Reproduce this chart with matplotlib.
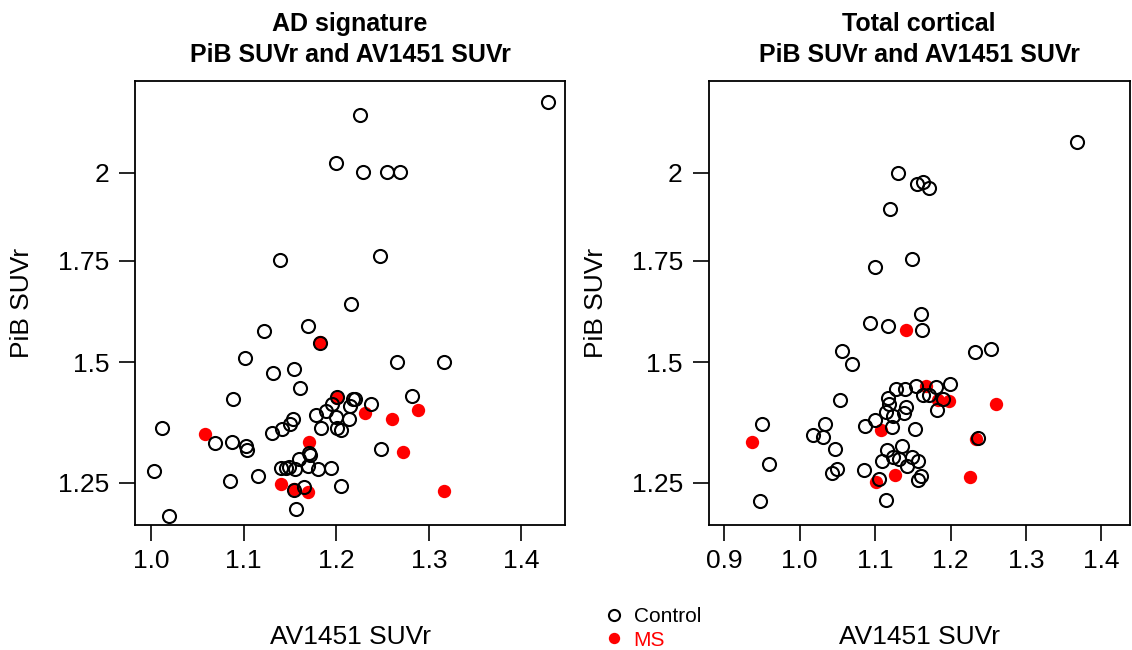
import matplotlib
matplotlib.use("Agg")
import matplotlib.pyplot as plt
from matplotlib.ticker import NullLocator

plt.rcParams['font.family'] = ['Liberation Sans', 'DejaVu Sans']

# AD signature panel
ad_ctrl_x = [1.429, 1.226, 1.200, 1.229, 1.255, 1.269, 1.139, 1.247, 1.216, 1.122,
             1.169, 1.1825, 1.101, 1.266, 1.316, 1.132, 1.154, 1.161, 1.089, 1.282,
             1.2005, 1.218, 1.220, 1.238, 1.195, 1.215, 1.189, 1.178, 1.200, 1.2135,
             1.153, 1.150, 1.141, 1.131, 1.183, 1.2005, 1.205, 1.012, 1.069, 1.0875,
             1.103, 1.104, 1.171, 1.172, 1.160, 1.248, 1.140, 1.146, 1.149, 1.1555,
             1.170, 1.180, 1.194, 1.003, 1.116, 1.085, 1.154, 1.165, 1.205, 1.157,
             1.019]
ad_ctrl_y = [2.227, 2.181, 2.029, 2.002, 2.002, 2.002, 1.751, 1.763, 1.640, 1.574,
             1.585, 1.546, 1.511, 1.500, 1.502, 1.477, 1.485, 1.442, 1.419, 1.426,
             1.423, 1.419, 1.419, 1.408, 1.408, 1.405, 1.394, 1.385, 1.380, 1.376,
             1.376, 1.366, 1.356, 1.347, 1.359, 1.358, 1.353, 1.359, 1.328, 1.329,
             1.322, 1.3135, 1.307, 1.304, 1.296, 1.316, 1.279, 1.279, 1.280, 1.277,
             1.282, 1.276, 1.279, 1.272, 1.263, 1.253, 1.237, 1.2425, 1.244, 1.202,
             1.189]
ad_ms_x = [1.1825, 1.2005, 1.231, 1.260, 1.288, 1.058, 1.171, 1.2725, 1.140, 1.154,
           1.170, 1.316]
ad_ms_y = [1.548, 1.421, 1.390, 1.377, 1.396, 1.345, 1.330, 1.310, 1.248, 1.239,
           1.232, 1.234]

# Total cortical panel
tc_ctrl_x = [1.368, 1.130, 1.155, 1.163, 1.171, 1.1195, 1.100, 1.149, 1.161, 1.093,
             1.117, 1.1625, 1.056, 1.070, 1.232, 1.253, 1.054, 1.128, 1.139, 1.154,
             1.181, 1.199, 1.164, 1.171, 1.190, 1.182, 1.117, 1.119, 1.141, 1.138,
             1.114, 1.1235, 1.100, 1.086, 1.123, 1.153, 0.950, 0.959, 0.947, 1.033,
             1.018, 1.031, 1.047, 1.043, 1.049, 1.085, 1.105, 1.115, 1.1155, 1.135,
             1.109, 1.1235, 1.1315, 1.142, 1.149, 1.157, 1.157, 1.161, 1.237]
tc_ctrl_y = [2.094, 2.000, 1.966, 1.971, 1.955, 1.893, 1.734, 1.755, 1.614, 1.592,
             1.584, 1.576, 1.526, 1.4965, 1.523, 1.532, 1.418, 1.441, 1.440, 1.448,
             1.4445, 1.452, 1.4285, 1.427, 1.4185, 1.396, 1.4206, 1.408, 1.403, 1.390,
             1.391, 1.382, 1.375, 1.363, 1.361, 1.356, 1.366, 1.286, 1.215, 1.366,
             1.344, 1.339, 1.316, 1.269, 1.276, 1.274, 1.257, 1.218, 1.3135, 1.3215,
             1.292, 1.300, 1.295, 1.2826, 1.299, 1.292, 1.255, 1.263, 1.337]
tc_ms_x = [1.141, 1.167, 1.184, 1.198, 1.260, 1.108, 0.937, 1.1015, 1.126, 1.226,
           1.234]
tc_ms_y = [1.576, 1.448, 1.416, 1.415, 1.409, 1.353, 1.330, 1.252, 1.264, 1.261,
           1.335]

titles = ["AD signature\nPiB SUVr and AV1451 SUVr",
          "Total cortical\nPiB SUVr and AV1451 SUVr"]
y_ticks = [1.25, 1.5, 1.75, 2.0]
y_labels = ["1.25", "1.5", "1.75", "2"]
ad_x_ticks = [1.0, 1.1, 1.2, 1.3, 1.4]
tc_x_ticks = [0.9, 1.0, 1.1, 1.2, 1.3, 1.4]

W, H = 1132, 650
fig = plt.figure(figsize=(W / 100, H / 100), dpi=100)
ax1 = fig.add_axes([135 / W, 1 - 525 / H, 430 / W, 444 / H])
ax2 = fig.add_axes([708.5 / W, 1 - 525 / H, 421.5 / W, 444 / H])

panels = [
    (ax1, ad_ctrl_x, ad_ctrl_y, ad_ms_x, ad_ms_y, ad_x_ticks, (0.9827, 1.447)),
    (ax2, tc_ctrl_x, tc_ctrl_y, tc_ms_x, tc_ms_y, tc_x_ticks, (0.8792, 1.4378)),
]

for i, (ax, cx, cy, mx, my, xt, xlim) in enumerate(panels):
    ms_h, = ax.plot(mx, my, "o", color="red", ms=9.6, mew=0, linestyle="none")
    ctrl_h, = ax.plot(cx, cy, "o", mfc="none", mec="black", ms=9.4, mew=1.5,
                      linestyle="none")
    ax.set_yscale("log")
    ax.set_ylim(1.1724, 2.298)
    ax.set_xlim(*xlim)
    ax.yaxis.set_minor_locator(NullLocator())
    ax.set_yticks(y_ticks)
    ax.set_yticklabels(y_labels)
    ax.set_xticks(xt)
    ax.set_xticklabels(["%.1f" % v for v in xt])
    ax.tick_params(axis="both", length=11.5, width=1.2, labelsize=19, direction="out")
    ax.tick_params(axis="y", pad=7)
    ax.tick_params(axis="x", pad=6)
    for s in ax.spines.values():
        s.set_linewidth(1.3)
    ax.set_title(titles[i], fontsize=18, fontweight="bold", pad=14, linespacing=1.35)
    ax.set_xlabel("AV1451 SUVr", fontsize=19, va="baseline")
    ax.xaxis.set_label_coords(0.5, -119 / 444)
    ax.set_ylabel("PiB SUVr", fontsize=19, va="center")
    ax.yaxis.set_label_coords(-112.5 / ax.get_position().width / W, 0.5)

fig.legend([ctrl_h, ms_h], ["Control", "MS"], loc="center left",
           bbox_to_anchor=(603.5 / W, 1 - 628.5 / H), frameon=False,
           fontsize=15, handlelength=1.0, handletextpad=0.45, labelspacing=0.2,
           borderpad=0, borderaxespad=0, labelcolor=["black", "red"],
           markerscale=0.85)

fig.savefig("out.png", dpi=100)
